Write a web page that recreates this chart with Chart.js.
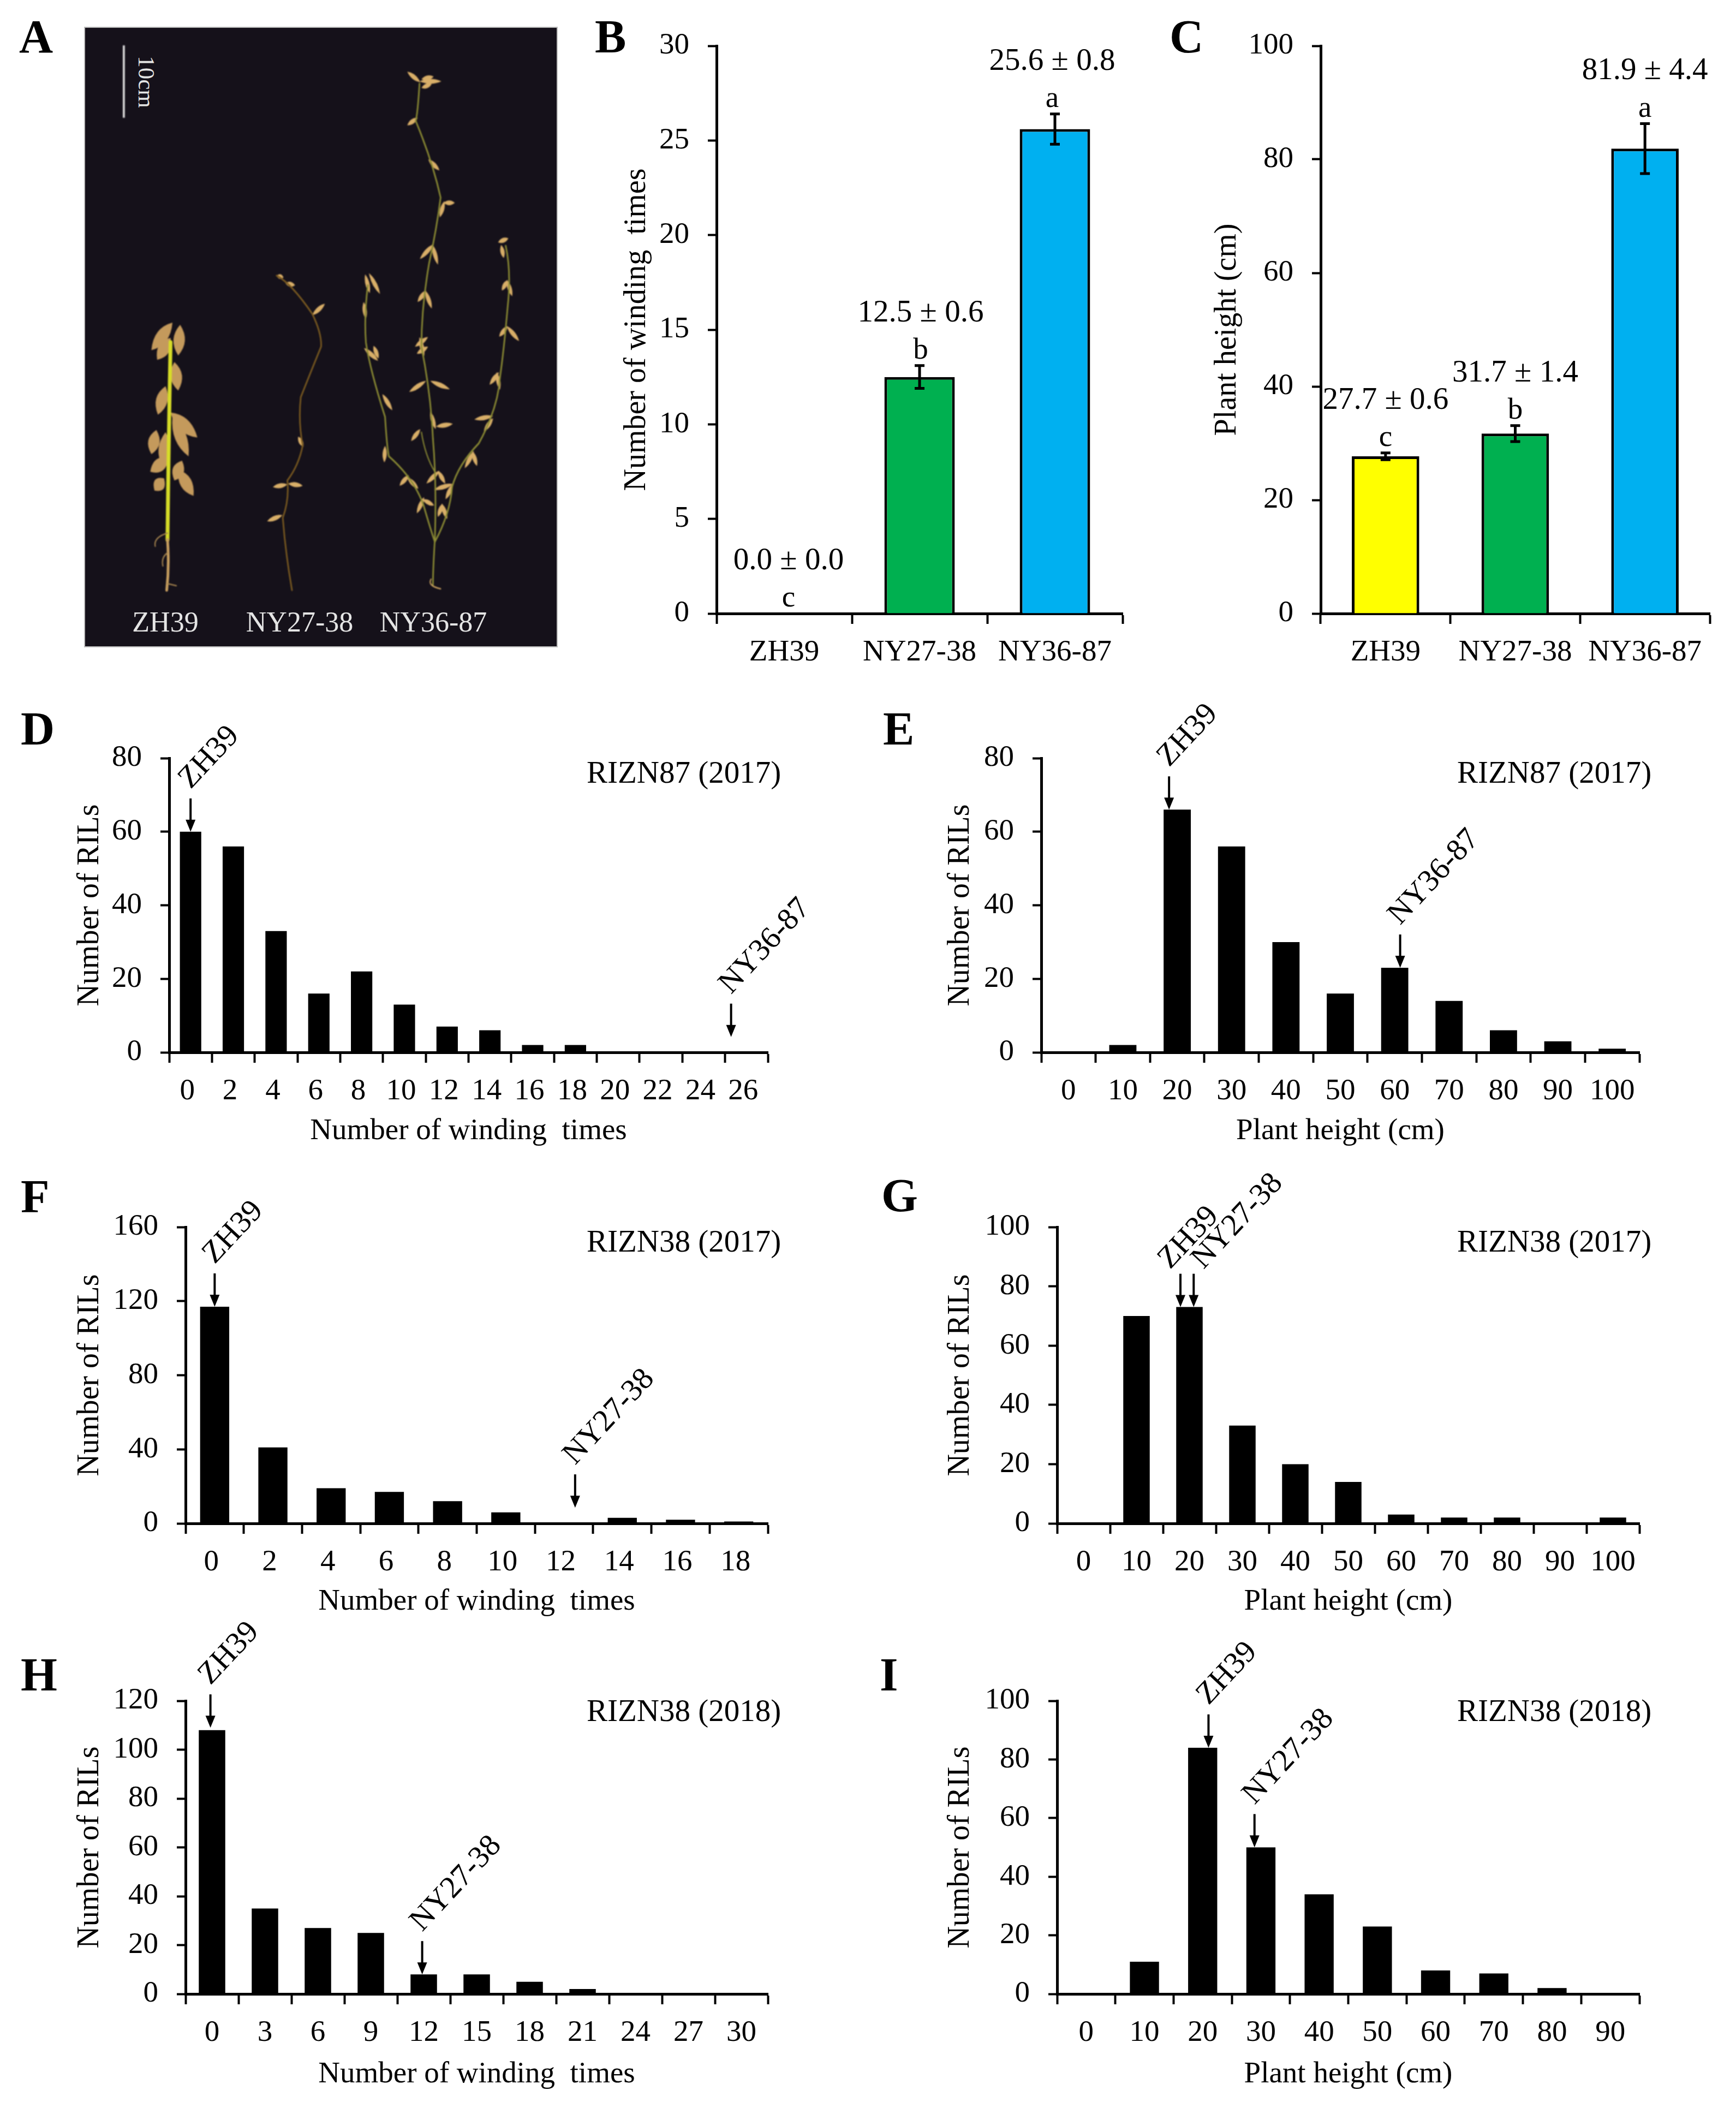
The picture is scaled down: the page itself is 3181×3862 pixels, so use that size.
<!DOCTYPE html>
<html>
<head>
<meta charset="utf-8">
<title>Winding times and plant height</title>
<script src="https://cdn.jsdelivr.net/npm/chart.js@4"></script>
<style>
  html, body { margin: 0; background: #fff; }
  #page { position: relative; width: 3181px; height: 3862px; overflow: hidden; font-family: "Liberation Serif", serif; color: #000; }
  #page canvas { position: absolute; }
  .letter { position: absolute; font-size: 86px; font-weight: bold; line-height: 1; }
  #photo { position: absolute; left: 156px; top: 51px; width: 864px; height: 1133px; background: #15111a; outline: 2px solid #bbb; }
  #photo svg { position: absolute; left: 0; top: 0; width: 100%; height: 100%; filter: blur(1.2px); }
  .plant-name { position: absolute; top: 1108px; font-size: 52px; line-height: 64px; color: #e4e4e4; transform: translateX(-50%); }
  #scaleText { position: absolute; left: 268px; top: 150px; font-size: 43px; line-height: 1; color: #e4e4e4; transform: translate(-50%, -50%) rotate(90deg); }
</style>
</head>
<body>
<div id="page">
  <div id="photo"><svg id="plants" viewBox="222 63 1231 1410" preserveAspectRatio="none"></svg></div>
  <div id="scaleText">10cm</div>
  <div class="plant-name" style="left:303px">ZH39</div>
  <div class="plant-name" style="left:549px">NY27-38</div>
  <div class="plant-name" style="left:794px">NY36-87</div>
</div>
<script>
// --- data ---
const lines = ['ZH39', 'NY27-38', 'NY36-87'];
const windingMeans = [0.0, 12.5, 25.6];
const windingErrors = [0.0, 0.6, 0.8];
const windingLetters = ['c', 'b', 'a'];
const heightMeans = [27.7, 31.7, 81.9];
const heightErrors = [0.6, 1.4, 4.4];
const heightLetters = ['c', 'b', 'a'];

const binsD = ['0', '2', '4', '6', '8', '10', '12', '14', '16', '18', '20', '22', '24', '26'];
const countsD = [60, 56, 33, 16, 22, 13, 7, 6, 2, 2, 0, 0, 0, 0];
const binsE = ['0', '10', '20', '30', '40', '50', '60', '70', '80', '90', '100'];
const countsE = [0, 2, 66, 56, 30, 16, 23, 14, 6, 3, 1];
const binsF = ['0', '2', '4', '6', '8', '10', '12', '14', '16', '18'];
const countsF = [117, 41, 19, 17, 12, 6, 0, 3, 2, 1];
const binsG = ['0', '10', '20', '30', '40', '50', '60', '70', '80', '90', '100'];
const countsG = [0, 70, 73, 33, 20, 14, 3, 2, 2, 0, 2];
const binsH = ['0', '3', '6', '9', '12', '15', '18', '21', '24', '27', '30'];
const countsH = [108, 35, 27, 25, 8, 8, 5, 2, 0, 0, 0];
const binsI = ['0', '10', '20', '30', '40', '50', '60', '70', '80', '90'];
const countsI = [0, 11, 84, 50, 34, 23, 8, 7, 2, 0];

const windingTitle = 'Number of winding  times';
const heightTitle = 'Plant height (cm)';
const rilTitle = 'Number of RILs';

const GREEN = '#00b050', BLUE = '#00b0f0', YELLOW = '#ffff00';
const FONT = 'Liberation Serif';
const page = document.getElementById('page');

// draws error bars, value labels, arrows and the notes of one panel
const notesPlugin = {
  id: 'notes',
  afterDatasetsDraw(chart) {
    const cfg = chart.options.plugins.notes;
    const { ctx, scales: { x, y }, chartArea } = chart;
    ctx.save();
    ctx.fillStyle = ctx.strokeStyle = '#000';
    ctx.textBaseline = 'middle';
    ctx.font = `55px "${FONT}"`;

    if (cfg.means) {
      ctx.lineWidth = 5;
      cfg.means.forEach((m, i) => {
        const cx = x.getPixelForValue(i);
        const hi = y.getPixelForValue(m + cfg.errors[i]);
        const lo = y.getPixelForValue(m - cfg.errors[i]);
        if (cfg.errors[i] > 0) {
          ctx.beginPath();
          ctx.moveTo(cx, hi); ctx.lineTo(cx, lo);
          ctx.moveTo(cx - 9, hi); ctx.lineTo(cx + 9, hi);
          ctx.moveTo(cx - 9, lo); ctx.lineTo(cx + 9, lo);
          ctx.stroke();
        }
        const shift = cfg.shift ? cfg.shift[i] : 0;
        ctx.textAlign = 'center';
        ctx.fillText(cfg.letters[i], cx + shift, hi - 27);
        ctx.font = `57px "${FONT}"`;
        ctx.fillText(`${m.toFixed(1)} ± ${cfg.errors[i].toFixed(1)}`, cx + shift, hi - 96);
        ctx.font = `55px "${FONT}"`;
      });
    }

    if (cfg.title) {
      ctx.textAlign = 'left';
      ctx.font = `57px "${FONT}"`;
      ctx.fillText(cfg.title, chartArea.right + cfg.titleDx, chartArea.top + (cfg.titleDy || 30));
      ctx.font = `55px "${FONT}"`;
    }

    (cfg.arrows || []).forEach(a => {
      const ax = x.getPixelForValue(a.at);
      const tip = y.getPixelForValue(a.tip);
      const top = tip - 61;
      ctx.lineWidth = 4;
      ctx.beginPath();
      ctx.moveTo(ax, top); ctx.lineTo(ax, tip - 18);
      ctx.stroke();
      ctx.beginPath();
      ctx.moveTo(ax - 9, tip - 22); ctx.lineTo(ax + 9, tip - 22); ctx.lineTo(ax, tip);
      ctx.closePath();
      ctx.fill();
      ctx.save();
      ctx.translate(ax + (a.dx === undefined ? 0 : a.dx), top + (a.dy === undefined ? -16 : a.dy));
      ctx.rotate(-47 * Math.PI / 180);
      ctx.textAlign = 'left';
      ctx.textBaseline = 'alphabetic';
      ctx.font = `57px "${FONT}"`;
      ctx.fillText(a.label, 0, 0);
      ctx.restore();
    });
    ctx.restore();
  }
};

function makePanel(p) {
  // p.left/right/top/bottom = plot area on the page, p.titleX / p.titleY = axis title centres
  const canvasLeft = p.titleX - 33;
  const canvasTop = p.top - 150;
  const canvasRight = p.right + 110;
  const canvasBottom = p.titleY + 33;
  const canvas = document.createElement('canvas');
  canvas.width = canvasRight - canvasLeft;
  canvas.height = canvasBottom - canvasTop;
  canvas.style.left = canvasLeft + 'px';
  canvas.style.top = canvasTop + 'px';
  canvas.style.width = canvas.width + 'px';
  canvas.style.height = canvas.height + 'px';
  page.appendChild(canvas);

  new Chart(canvas.getContext('2d'), {
    type: 'bar',
    plugins: [notesPlugin],
    data: {
      labels: p.labels,
      datasets: [{
        data: p.values,
        backgroundColor: p.colors || '#000',
        borderColor: '#000',
        borderWidth: p.colors ? 5 : 0,
        categoryPercentage: 1,
        barPercentage: p.barWidth || 0.5
      }]
    },
    options: {
      responsive: false,
      animation: false,
      devicePixelRatio: 1,
      layout: { padding: { top: 150, right: 110, left: 0, bottom: 0 } },
      plugins: {
        legend: { display: false },
        tooltip: { enabled: false },
        title: { display: false },
        notes: p.notes
      },
      scales: {
        x: {
          offset: true,
          afterFit: s => { s.height = canvasBottom - p.bottom; },
          border: { color: '#000', width: 5 },
          grid: { offset: true, drawOnChartArea: false, drawTicks: true, tickLength: 19, tickColor: '#000', tickWidth: 4 },
          ticks: { autoSkip: false, maxRotation: 0, minRotation: 0, padding: 20, color: '#000', labelOffset: p.labelOffset || 0, font: { family: FONT, size: 55 } },
          title: { display: true, text: p.xTitle || '', color: '#000', padding: 0, font: { family: FONT, size: 55 } }
        },
        y: {
          min: 0,
          max: p.max,
          afterFit: s => { s.width = p.left - canvasLeft; },
          border: { color: '#000', width: 5 },
          grid: { drawOnChartArea: false, drawTicks: true, tickLength: 16, tickColor: '#000', tickWidth: 4 },
          ticks: { stepSize: p.step, padding: 34, color: '#000', font: { family: FONT, size: 55 } },
          title: { display: true, text: p.yTitle, color: '#000', padding: 0, font: { family: FONT, size: 56 } }
        }
      }
    }
  });
}

// --- panels ---
makePanel({
  left: 1313, right: 2057, top: 84, bottom: 1124, titleX: 1167, titleY: 1225,
  labels: lines, values: windingMeans, colors: [GREEN, GREEN, BLUE], barWidth: 0.52, max: 30, step: 5,
  yTitle: windingTitle,
  notes: { means: windingMeans, errors: windingErrors, letters: windingLetters, shift: [8, 2, -5] }
});
makePanel({
  left: 2420, right: 3133, top: 84, bottom: 1124, titleX: 2249, titleY: 1225,
  labels: lines, values: heightMeans, colors: [YELLOW, GREEN, BLUE], barWidth: 0.52, max: 100, step: 20,
  yTitle: heightTitle,
  notes: { means: heightMeans, errors: heightErrors, letters: heightLetters }
});
makePanel({
  left: 310, right: 1407, top: 1389, bottom: 1928, titleX: 165, titleY: 2073,
  labels: binsD, values: countsD, max: 80, step: 20, labelOffset: -6,
  xTitle: windingTitle, yTitle: rilTitle,
  notes: { title: 'RIZN87 (2017)', titleDx: -332, arrows: [
    { label: 'ZH39', at: 0, tip: 60 },
    { label: 'NY36-87', at: 12.64, tip: 4.2 }
  ] }
});
makePanel({
  left: 1908, right: 3004, top: 1389, bottom: 1928, titleX: 1760, titleY: 2073,
  labels: binsE, values: countsE, max: 80, step: 20,
  xTitle: heightTitle, yTitle: rilTitle,
  notes: { title: 'RIZN87 (2017)', titleDx: -334, arrows: [
    { label: 'ZH39', at: 1.85, tip: 66 },
    { label: 'NY36-87', at: 6.1, tip: 23 }
  ] }
});
makePanel({
  left: 340, right: 1407, top: 2248, bottom: 2791, titleX: 165, titleY: 2935,
  labels: binsF, values: countsF, max: 160, step: 40, labelOffset: -6,
  xTitle: windingTitle, yTitle: rilTitle,
  notes: { title: 'RIZN38 (2017)', titleDx: -332, arrows: [
    { label: 'ZH39', at: 0, tip: 117 },
    { label: 'NY27-38', at: 6.19, tip: 8.5 }
  ] }
});
makePanel({
  left: 1937, right: 3004, top: 2248, bottom: 2791, titleX: 1760, titleY: 2935,
  labels: binsG, values: countsG, max: 100, step: 20,
  xTitle: heightTitle, yTitle: rilTitle,
  notes: { title: 'RIZN38 (2017)', titleDx: -334, arrows: [
    { label: 'ZH39', at: 1.83, tip: 73, dx: -19, dy: -7 },
    { label: 'NY27-38', at: 2.08, tip: 73, dx: 18, dy: -7 }
  ] }
});
makePanel({
  left: 340, right: 1407, top: 3116, bottom: 3653, titleX: 165, titleY: 3801,
  labels: binsH, values: countsH, max: 120, step: 20,
  xTitle: windingTitle, yTitle: rilTitle,
  notes: { title: 'RIZN38 (2018)', titleDx: -332, titleDy: 22, arrows: [
    { label: 'ZH39', at: -0.03, tip: 109 },
    { label: 'NY27-38', at: 3.97, tip: 8 }
  ] }
});
makePanel({
  left: 1937, right: 3004, top: 3116, bottom: 3653, titleX: 1760, titleY: 3801,
  labels: binsI, values: countsI, max: 100, step: 20,
  xTitle: heightTitle, yTitle: rilTitle,
  notes: { title: 'RIZN38 (2018)', titleDx: -334, titleDy: 22, arrows: [
    { label: 'ZH39', at: 2.1, tip: 84 },
    { label: 'NY27-38', at: 2.89, tip: 50 }
  ] }
});

// --- panel letters ---
[['A', 35, 24], ['B', 1090, 24], ['C', 2143, 24],
 ['D', 38, 1292], ['E', 1618, 1292],
 ['F', 38, 2149], ['G', 1615, 2147],
 ['H', 38, 3025], ['I', 1612, 3025]].forEach(([t, l, top]) => {
  const d = document.createElement('div');
  d.className = 'letter';
  d.textContent = t;
  d.style.left = l + 'px';
  d.style.top = top + 'px';
  page.appendChild(d);
});

// --- panel A: sketch of the photograph ---
const stems = [
  ['M1130,1000 L1130,1000', '#8c8c34', 4],
  ['M445,780 Q440,1000 437,1230', '#d6dc28', 10],
  ['M437,1230 Q442,1290 435,1345', '#c9a060', 7],
  ['M722,628 Q760,645 815,715 Q840,760 838,790 Q810,850 785,905 Q778,960 790,1015 Q780,1060 750,1095 Q755,1140 738,1180 Q745,1260 762,1345', '#7a5a20', 4],
  ['M1095,190 Q1090,260 1085,275 Q1130,370 1150,450 Q1140,520 1120,600 Q1100,700 1100,790 Q1125,900 1130,1000 Q1140,1100 1135,1230 Q1130,1300 1130,1335', '#8c8c34', 4],
  ['M960,650 Q950,720 955,780 Q965,840 1005,950 Q1010,1020 1015,1040 Q1080,1090 1105,1150 Q1125,1210 1135,1235', '#8c8c34', 4],
  ['M1320,560 Q1335,620 1325,700 Q1315,800 1305,860 Q1300,930 1250,1010 Q1195,1060 1180,1110 Q1175,1170 1135,1235', '#8c8c34', 4],
  ['M1100,985 Q1110,1040 1135,1075', '#8c8c34', 3],
  ['M437,1215 Q400,1225 405,1245 M437,1260 Q420,1270 425,1290 M437,1330 L460,1335', '#a88650', 3],
  ['M1125,1320 Q1115,1335 1150,1342', '#c9a060', 3]
];
const bigPods = [[395, 798, 450, 735], [470, 740, 465, 810], [410, 820, 445, 770], [455, 825, 465, 890], [432, 880, 412, 945],
  [445, 940, 515, 997], [450, 950, 492, 1040], [408, 980, 395, 1035], [432, 985, 425, 1065], [440, 1045, 392, 1075],
  [475, 1050, 455, 1095], [465, 1070, 505, 1130], [428, 1090, 403, 1118]];
const thinPods = [[722, 628, 740, 632], [745, 645, 770, 650], [815, 718, 848, 692], [712, 1110, 750, 1104], [752, 1102, 790, 1107],
  [697, 1188, 737, 1174], [778, 995, 792, 1018],
  [1063, 163, 1097, 187], [1095, 185, 1152, 185], [1100, 180, 1132, 174], [1100, 200, 1127, 191], [1063, 285, 1090, 268],
  [1118, 363, 1147, 388], [1148, 495, 1160, 458], [1158, 462, 1187, 462], [1096, 590, 1132, 556], [1128, 556, 1143, 603],
  [1090, 688, 1112, 662], [1110, 662, 1127, 703], [1083, 790, 1117, 768], [1088, 806, 1117, 790], [1095, 768, 1107, 812],
  [1068, 893, 1112, 868], [1123, 868, 1174, 887], [1123, 938, 1137, 978], [1138, 972, 1182, 966], [1073, 1005, 1097, 978],
  [953, 625, 965, 668], [963, 622, 992, 670], [949, 688, 955, 727], [950, 793, 987, 822], [975, 788, 988, 817], [998, 898, 1024, 935],
  [1005, 1016, 1003, 1054], [1043, 1107, 1067, 1083], [1063, 1088, 1092, 1114], [1088, 1170, 1107, 1133], [1103, 1138, 1133, 1152],
  [1300, 552, 1327, 543], [1308, 558, 1315, 588], [1310, 662, 1325, 638], [1323, 638, 1337, 675], [1303, 767, 1325, 743], [1323, 743, 1355, 777],
  [1278, 877, 1302, 848], [1296, 848, 1305, 888], [1238, 956, 1287, 948], [1263, 983, 1287, 953], [1213, 1067, 1237, 1028], [1233, 1028, 1245, 1062],
  [1113, 1102, 1147, 1073], [1143, 1073, 1162, 1102], [1133, 1116, 1182, 1103], [1163, 1138, 1182, 1103], [1143, 1178, 1155, 1148], [1153, 1148, 1167, 1183]];

// pod outline: a lens between the two end points
function podPath(q, w) {
  const [x1, y1, x2, y2] = q;
  const mx = (x1 + x2) / 2, my = (y1 + y2) / 2;
  const len = Math.hypot(x2 - x1, y2 - y1) || 1;
  const nx = -(y2 - y1) / len * w, ny = (x2 - x1) / len * w;
  return `M${x1},${y1} Q${mx + nx},${my + ny} ${x2},${y2} Q${mx - nx},${my - ny} ${x1},${y1}Z`;
}

let svg = '<line x1="323" y1="103" x2="323" y2="268" stroke="#e8e8e8" stroke-width="5"/>';
thinPods.forEach(q => { svg += `<path d="${podPath(q, 11)}" fill="#d8ae68"/>`; });
bigPods.forEach(q => { svg += `<path d="${podPath(q, 30)}" fill="#c49a5c"/>`; });
stems.forEach(([d, color, w]) => {
  svg += `<path d="${d}" fill="none" stroke="${color}" stroke-width="${w}" stroke-linecap="round"/>`;
});
document.getElementById('plants').innerHTML = svg;
</script>
</body>
</html>
